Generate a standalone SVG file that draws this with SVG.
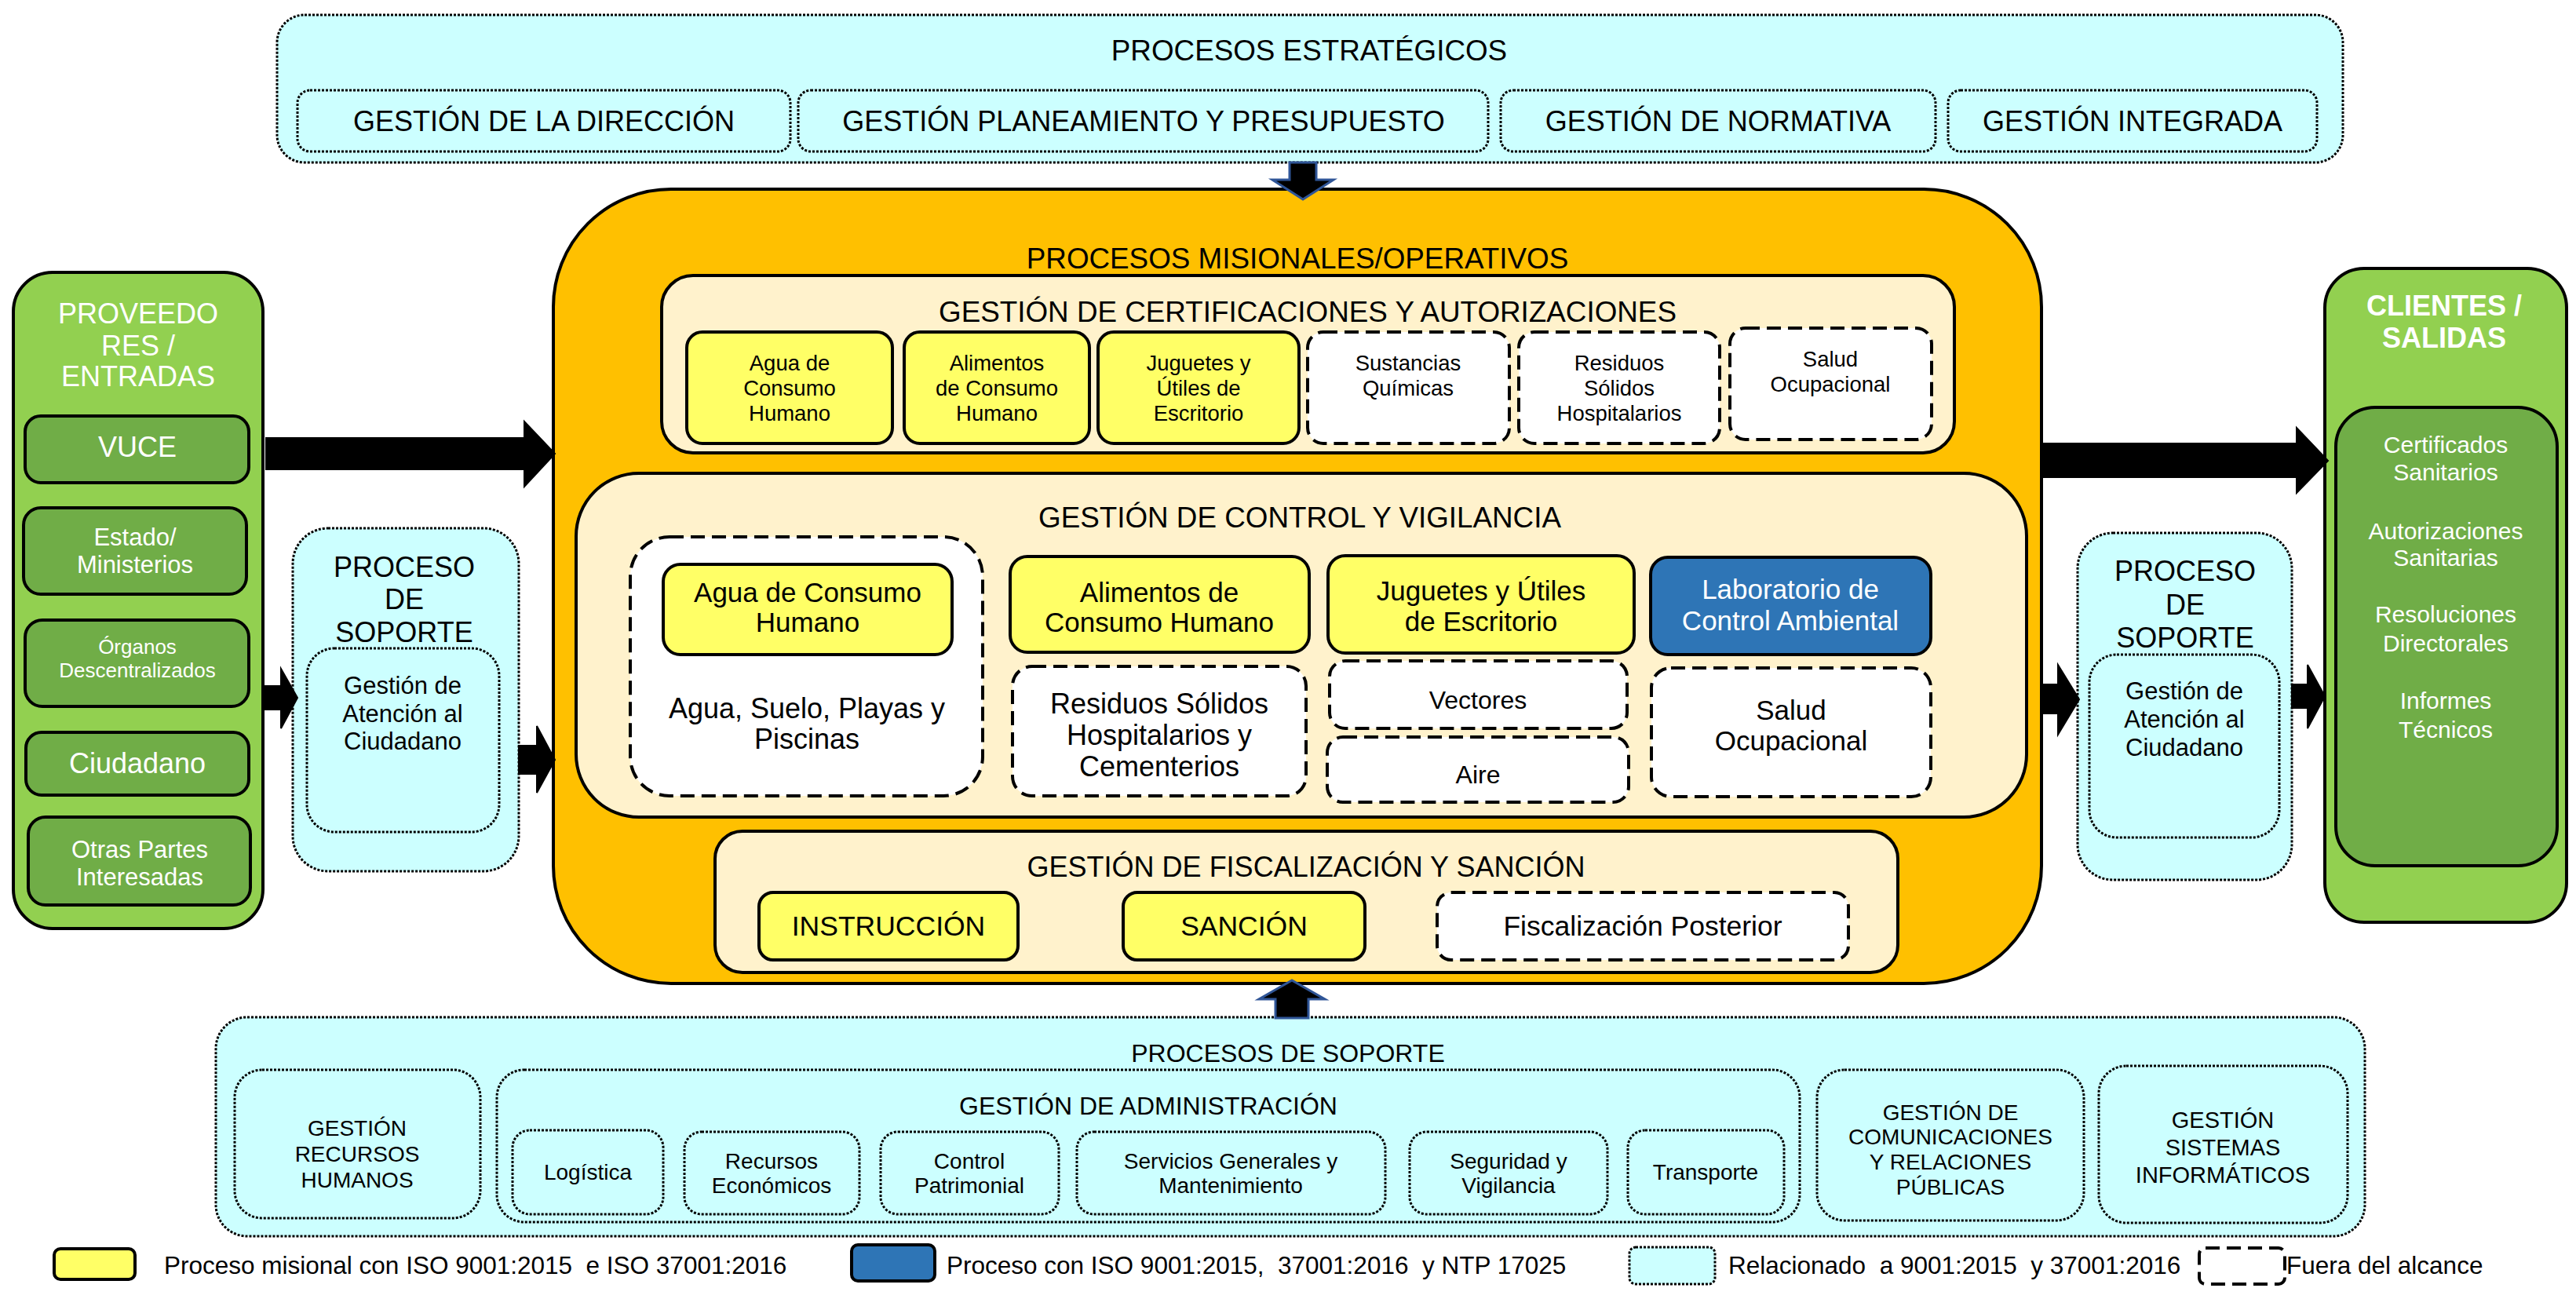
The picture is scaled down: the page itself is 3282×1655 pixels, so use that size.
<svg xmlns="http://www.w3.org/2000/svg" width="3282" height="1655" viewBox="0 0 3282 1655">
<style>
text{font-family:"Liberation Sans",Arial,sans-serif;fill:#000;text-anchor:middle}
.w{fill:#fff}
.cy{fill:#CCFFFF;stroke:#000;stroke-width:3;stroke-dasharray:3 2}
.ye{fill:#FFFF66;stroke:#000;stroke-width:4}
.da{fill:#fff;stroke:#000;stroke-width:4;stroke-dasharray:18 9}
.cr{fill:#FFF2CC;stroke:#000;stroke-width:4}
.lg{fill:#92D050;stroke:#000;stroke-width:4}
.dg{fill:#70AD47;stroke:#000;stroke-width:4}
.bl{fill:#2E75B6;stroke:#000;stroke-width:4}
.ar{fill:#000;stroke:#000;stroke-width:2}
.arb{fill:#000;stroke:#2F5597;stroke-width:3}
.h{font-size:36.8px}
.t36{font-size:36px}.t35{font-size:35.5px}.t34{font-size:35px}.t32{font-size:32px}.t31{font-size:31px}.t30{font-size:30px}.t29{font-size:29px}.t28{font-size:28px}.t27{font-size:27.5px}.t26{font-size:26px}
.lgd{font-size:31.5px;text-anchor:start;white-space:pre}
</style>

<g id="estrategicos">
<rect class="cy" x="353" y="19" width="2632" height="188" rx="35"/>
<text class="h" x="1668" y="77">PROCESOS ESTRATÉGICOS</text>
<g id="direccion"><rect class="cy" x="379" y="115" width="628" height="78" rx="16"/><text class="t36" x="693" y="167">GESTIÓN DE LA DIRECCIÓN</text></g>
<g id="planeamiento"><rect class="cy" x="1017" y="115" width="879" height="78" rx="16"/><text class="t36" x="1457" y="167">GESTIÓN PLANEAMIENTO Y PRESUPUESTO</text></g>
<g id="normativa"><rect class="cy" x="1912" y="115" width="554" height="78" rx="16"/><text class="t36" x="2189" y="167">GESTIÓN DE NORMATIVA</text></g>
<g id="integrada"><rect class="cy" x="2482" y="115" width="470" height="78" rx="16"/><text class="t36" x="2717" y="167">GESTIÓN INTEGRADA</text></g>
</g>

<g id="misionales">
<rect x="705" y="241" width="1896" height="1012" rx="150" fill="#FFC000" stroke="#000" stroke-width="4"/>
<text class="h" x="1653" y="342">PROCESOS MISIONALES/OPERATIVOS</text>

<g id="certificaciones">
<rect class="cr" x="843" y="351" width="1647" height="226" rx="40"/>
<text class="h" x="1666" y="410">GESTIÓN DE CERTIFICACIONES Y AUTORIZACIONES</text>
<g id="c-agua"><rect class="ye" x="875" y="423" width="262" height="142" rx="20"/><text class="t27" x="1006" y="472">Agua de</text><text class="t27" x="1006" y="504">Consumo</text><text class="t27" x="1006" y="536">Humano</text></g>
<g id="c-alimentos"><rect class="ye" x="1152" y="423" width="236" height="142" rx="20"/><text class="t27" x="1270" y="472">Alimentos</text><text class="t27" x="1270" y="504">de Consumo</text><text class="t27" x="1270" y="536">Humano</text></g>
<g id="c-juguetes"><rect class="ye" x="1399" y="423" width="256" height="142" rx="20"/><text class="t27" x="1527" y="472">Juguetes y</text><text class="t27" x="1527" y="504">Útiles de</text><text class="t27" x="1527" y="536">Escritorio</text></g>
<g id="c-sustancias"><rect class="da" x="1666" y="423" width="257" height="142" rx="20"/><text class="t27" x="1794" y="472">Sustancias</text><text class="t27" x="1794" y="504">Químicas</text></g>
<g id="c-residuos"><rect class="da" x="1935" y="423" width="256" height="142" rx="20"/><text class="t27" x="2063" y="472">Residuos</text><text class="t27" x="2063" y="504">Sólidos</text><text class="t27" x="2063" y="536">Hospitalarios</text></g>
<g id="c-salud"><rect class="da" x="2204" y="418" width="257" height="142" rx="20"/><text class="t27" x="2332" y="467">Salud</text><text class="t27" x="2332" y="499">Ocupacional</text></g>
</g>

<g id="control">
<rect class="cr" x="734" y="603" width="1848" height="438" rx="80"/>
<text class="h" x="1656" y="672">GESTIÓN DE CONTROL Y VIGILANCIA</text>
<g id="v-agua-grupo"><rect class="da" x="803" y="684" width="449" height="330" rx="50"/>
<text class="t36" x="1028" y="915">Agua, Suelo, Playas y</text><text class="t36" x="1028" y="954">Piscinas</text></g>
<g id="v-agua"><rect class="ye" x="845" y="719" width="368" height="115" rx="22"/><text class="t34" x="1029" y="767">Agua de Consumo</text><text class="t34" x="1029" y="805">Humano</text></g>
<g id="v-alimentos"><rect class="ye" x="1287" y="709" width="381" height="122" rx="22"/><text class="t34" x="1477" y="767">Alimentos de</text><text class="t34" x="1477" y="805">Consumo Humano</text></g>
<g id="v-residuos"><rect class="da" x="1290" y="849" width="374" height="165" rx="25"/><text class="t36" x="1477" y="909">Residuos Sólidos</text><text class="t36" x="1477" y="949">Hospitalarios y</text><text class="t36" x="1477" y="989">Cementerios</text></g>
<g id="v-juguetes"><rect class="ye" x="1692" y="708" width="390" height="124" rx="22"/><text class="t34" x="1887" y="765">Juguetes y Útiles</text><text class="t34" x="1887" y="804">de Escritorio</text></g>
<g id="v-vectores"><rect class="da" x="1694" y="842" width="379" height="86" rx="20"/><text class="t32" x="1883" y="903">Vectores</text></g>
<g id="v-aire"><rect class="da" x="1691" y="939" width="384" height="83" rx="20"/><text class="t32" x="1883" y="998">Aire</text></g>
<g id="v-laboratorio"><rect class="bl" x="2103" y="710" width="357" height="124" rx="22"/><text class="t34 w" x="2281" y="763">Laboratorio de</text><text class="t34 w" x="2281" y="803">Control Ambiental</text></g>
<g id="v-salud"><rect class="da" x="2104" y="851" width="356" height="164" rx="25"/><text class="t34" x="2282" y="917">Salud</text><text class="t34" x="2282" y="956">Ocupacional</text></g>
</g>

<g id="fiscalizacion">
<rect class="cr" x="911" y="1059" width="1507" height="180" rx="35"/>
<text class="t36" x="1664" y="1117">GESTIÓN DE FISCALIZACIÓN Y SANCIÓN</text>
<g id="f-instruccion"><rect class="ye" x="967" y="1137" width="330" height="86" rx="18"/><text class="t35" x="1132" y="1192">INSTRUCCIÓN</text></g>
<g id="f-sancion"><rect class="ye" x="1431" y="1137" width="308" height="86" rx="18"/><text class="t35" x="1585" y="1192">SANCIÓN</text></g>
<g id="f-posterior"><rect class="da" x="1831" y="1137" width="524" height="86" rx="18"/><text class="t35" x="2093" y="1192">Fiscalización Posterior</text></g>
</g>
</g>

<g id="proveedores">
<rect class="lg" x="17" y="347" width="318" height="836" rx="50"/>
<text class="t36 w" x="176" y="412">PROVEEDO</text><text class="t36 w" x="176" y="453">RES /</text><text class="t36 w" x="176" y="492">ENTRADAS</text>
<g id="vuce"><rect class="dg" x="32" y="530" width="285" height="85" rx="20"/><text class="t36 w" x="175" y="582">VUCE</text></g>
<g id="estado"><rect class="dg" x="30" y="647" width="284" height="110" rx="22"/><text class="t31 w" x="172" y="695">Estado/</text><text class="t31 w" x="172" y="730">Ministerios</text></g>
<g id="organos"><rect class="dg" x="32" y="790" width="285" height="110" rx="22"/><text class="t26 w" x="175" y="833">Órganos</text><text class="t26 w" x="175" y="863">Descentralizados</text></g>
<g id="ciudadano"><rect class="dg" x="33" y="933" width="284" height="80" rx="20"/><text class="t36 w" x="175" y="985">Ciudadano</text></g>
<g id="otras"><rect class="dg" x="36" y="1041" width="283" height="112" rx="22"/><text class="t31 w" x="178" y="1093">Otras Partes</text><text class="t31 w" x="178" y="1128">Interesadas</text></g>
</g>

<g id="soporte-izq">
<rect class="cy" x="373" y="673" width="288" height="437" rx="45"/>
<text class="t36" x="515" y="735">PROCESO</text><text class="t36" x="515" y="776">DE</text><text class="t36" x="515" y="818">SOPORTE</text>
<g id="atencion-izq"><rect class="cy" x="391" y="826" width="245" height="234" rx="35"/>
<text class="t31" x="513" y="884">Gestión de</text><text class="t31" x="513" y="920">Atención al</text><text class="t31" x="513" y="955">Ciudadano</text></g>
</g>

<g id="soporte-der">
<rect class="cy" x="2647" y="679" width="273" height="442" rx="45"/>
<text class="t36" x="2784" y="740">PROCESO</text><text class="t36" x="2784" y="783">DE</text><text class="t36" x="2784" y="825">SOPORTE</text>
<g id="atencion-der"><rect class="cy" x="2662" y="834" width="242" height="233" rx="35"/>
<text class="t31" x="2783" y="891">Gestión de</text><text class="t31" x="2783" y="927">Atención al</text><text class="t31" x="2783" y="963">Ciudadano</text></g>
</g>

<g id="clientes">
<rect class="lg" x="2962" y="342" width="308" height="833" rx="50"/>
<text class="t36 w" x="3114" y="402" font-weight="bold">CLIENTES /</text><text class="t36 w" x="3114" y="443" font-weight="bold">SALIDAS</text>
<g id="salidas"><rect class="dg" x="2976" y="519" width="282" height="584" rx="50"/>
<text class="t30 w" x="3116" y="577">Certificados</text><text class="t30 w" x="3116" y="612">Sanitarios</text>
<text class="t30 w" x="3116" y="687">Autorizaciones</text><text class="t30 w" x="3116" y="721">Sanitarias</text>
<text class="t30 w" x="3116" y="793">Resoluciones</text><text class="t30 w" x="3116" y="830">Directorales</text>
<text class="t30 w" x="3116" y="903">Informes</text><text class="t30 w" x="3116" y="940">Técnicos</text></g>
</g>

<g id="soporte">
<rect class="cy" x="275" y="1296" width="2738" height="279" rx="40"/>
<text class="t32" x="1641" y="1353">PROCESOS DE SOPORTE</text>
<g id="rrhh"><rect class="cy" x="299" y="1363" width="313" height="189" rx="35"/><text class="t28" x="455" y="1447">GESTIÓN</text><text class="t28" x="455" y="1480">RECURSOS</text><text class="t28" x="455" y="1513">HUMANOS</text></g>
<g id="administracion"><rect class="cy" x="633" y="1363" width="1660" height="194" rx="35"/>
<text class="t32" x="1463" y="1420">GESTIÓN DE ADMINISTRACIÓN</text>
<g id="logistica"><rect class="cy" x="653" y="1440" width="192" height="107" rx="22"/><text class="t28" x="749" y="1503">Logística</text></g>
<g id="recursos"><rect class="cy" x="872" y="1442" width="223" height="105" rx="22"/><text class="t28" x="983" y="1489">Recursos</text><text class="t28" x="983" y="1520">Económicos</text></g>
<g id="patrimonial"><rect class="cy" x="1122" y="1442" width="227" height="105" rx="22"/><text class="t28" x="1235" y="1489">Control</text><text class="t28" x="1235" y="1520">Patrimonial</text></g>
<g id="servicios"><rect class="cy" x="1372" y="1442" width="393" height="105" rx="22"/><text class="t28" x="1568" y="1489">Servicios Generales y</text><text class="t28" x="1568" y="1520">Mantenimiento</text></g>
<g id="seguridad"><rect class="cy" x="1796" y="1442" width="252" height="105" rx="22"/><text class="t28" x="1922" y="1489">Seguridad y</text><text class="t28" x="1922" y="1520">Vigilancia</text></g>
<g id="transporte"><rect class="cy" x="2074" y="1440" width="199" height="107" rx="22"/><text class="t28" x="2173" y="1503">Transporte</text></g>
</g>
<g id="comunicaciones"><rect class="cy" x="2315" y="1363" width="340" height="192" rx="35"/><text class="t28" x="2485" y="1427">GESTIÓN DE</text><text class="t28" x="2485" y="1458">COMUNICACIONES</text><text class="t28" x="2485" y="1490">Y RELACIONES</text><text class="t28" x="2485" y="1522">PÚBLICAS</text></g>
<g id="sistemas"><rect class="cy" x="2674" y="1358" width="317" height="200" rx="35"/><text class="t29" x="2832" y="1437">GESTIÓN</text><text class="t29" x="2832" y="1472">SISTEMAS</text><text class="t29" x="2832" y="1507">INFORMÁTICOS</text></g>
</g>

<g id="connectors">
<polygon class="arb" points="1643,207 1677,207 1677,229 1699,229 1660,254 1621,229 1643,229"/>
<polygon class="arb" points="1625,1297 1667,1297 1667,1273 1688,1273 1646,1249 1604,1273 1625,1273"/>
<polygon class="ar" points="339,558 668,558 668,537 707,578 668,620 668,598 339,598"/>
<polygon class="ar" points="337,874 358,874 358,852 379,889 358,928 358,904 337,904"/>
<polygon class="ar" points="661,950 684,950 684,925 707,968 684,1010 684,986 661,986"/>
<polygon class="ar" points="2602,565 2926,565 2926,545 2966,587 2926,628 2926,608 2602,608"/>
<polygon class="ar" points="2602,872 2622,872 2622,847 2649,891 2622,936 2622,909 2602,909"/>
<polygon class="ar" points="2920,872 2940,872 2940,847 2962,887 2940,928 2940,902 2920,902"/>
</g>

<g id="legend">
<rect class="ye" x="69" y="1591" width="103" height="39" rx="8"/>
<text class="lgd" x="209" y="1623">Proceso misional con ISO 9001:2015  e ISO 37001:2016</text>
<rect class="bl" x="1085" y="1586" width="106" height="46" rx="8"/>
<text class="lgd" x="1206" y="1623">Proceso con ISO 9001:2015,  37001:2016  y NTP 17025</text>
<rect class="cy" x="2076" y="1589" width="109" height="47" rx="8"/>
<text class="lgd" x="2202" y="1623">Relacionado  a 9001:2015  y 37001:2016</text>
<rect class="da" x="2802" y="1590" width="109" height="46" rx="8"/>
<text class="lgd" x="2913" y="1623">Fuera del alcance</text>
</g>
</svg>
